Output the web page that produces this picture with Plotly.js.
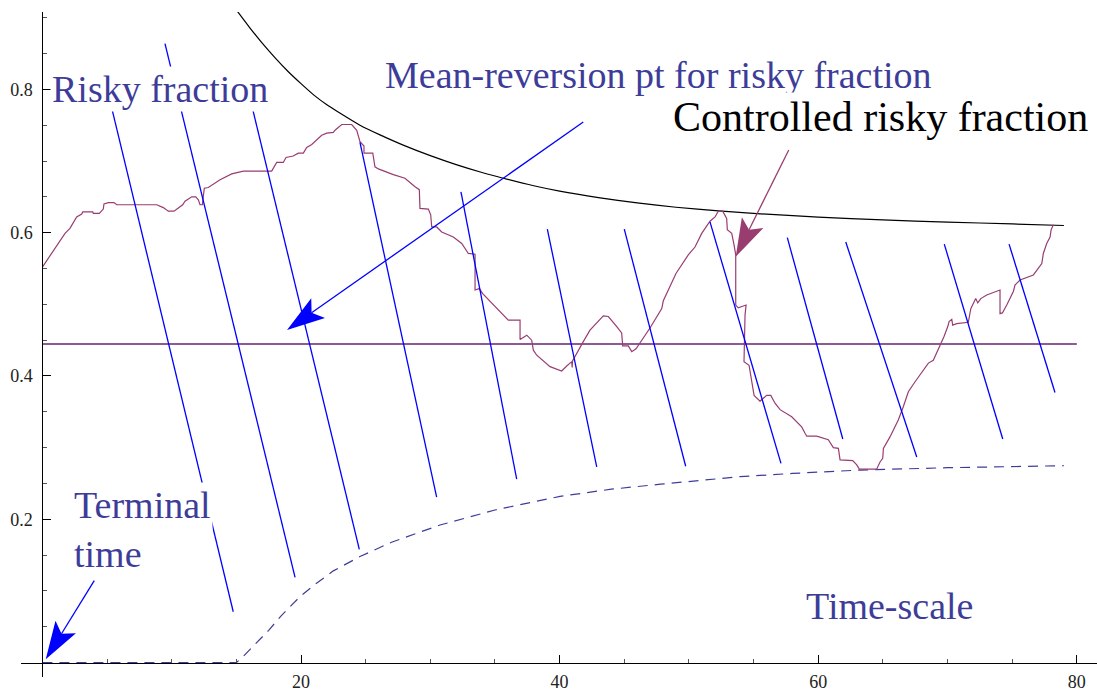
<!DOCTYPE html>
<html>
<head>
<meta charset="utf-8">
<script src="https://cdn.plot.ly/plotly-3.0.1.min.js"></script>
<style>
  html, body { margin: 0; padding: 0; background: #ffffff; }
  #chart { width: 1097px; height: 691px; }
</style>
</head>
<body>
<div id="chart"></div>
<script>
// Controlled risky fraction path (time, fraction)
const pathT = [0, 1.75, 2.13, 2.65, 3.04, 3.12, 3.89, 3.94, 4.40, 4.71,
  4.76, 5.10, 5.54, 5.75, 8.84, 9.35, 9.74, 10.18, 10.85, 11.03,
  11.55, 11.86, 12.06, 12.19, 12.37, 12.52, 12.83, 13.74, 14.64, 15.54,
  17.73, 18.12, 18.63, 18.84, 19.40, 19.79, 20.18, 20.44, 20.83, 21.60,
  21.99, 22.50, 22.63, 23.15, 23.92, 24.31, 24.56, 24.87, 24.87, 25.55,
  25.72, 25.98, 27.14, 28.04, 28.82, 29.15, 29.20, 29.85, 30.03, 30.11,
  30.50, 30.88, 31.78, 32.43, 32.94, 33.46, 33.46, 33.79, 34.05, 34.62,
  35.26, 36.03, 36.94, 36.94, 37.46, 37.84, 37.97, 38.23, 39.26, 40.16,
  40.55, 40.94, 40.97, 41.00, 41.83, 42.35, 43.38, 43.77, 44.42, 44.80,
  44.88, 45.31, 45.58, 45.91, 46.99, 47.90, 48.02, 49.00, 49.95, 50.47,
  50.99, 51.63, 52.02, 52.27, 52.61, 52.92, 52.97, 53.31, 53.49, 53.62,
  53.62, 53.82, 54.42, 54.34, 54.26, 54.65, 55.04, 55.50, 56.02, 56.33,
  56.66, 57.05, 57.95, 58.72, 58.98, 59.11, 59.88, 60.78, 61.17, 61.56,
  61.69, 62.67, 62.98, 63.18, 64.52, 64.78, 64.99, 65.04, 65.55, 66.20,
  66.58, 66.97, 67.49, 68.52, 68.90, 69.17, 69.55, 69.73, 70.02, 70.12,
  70.33, 70.40, 70.71, 71.61, 71.80, 72.18, 72.34, 72.57, 73.03, 74.06,
  74.06, 74.24, 74.58, 74.83, 75.09, 75.22, 75.61, 76.64, 77.02, 77.29,
  77.41, 77.67, 77.93, 78.01, 78.18];
const pathF = [0.552, 0.599, 0.606, 0.622, 0.626, 0.629, 0.629, 0.627, 0.627, 0.633,
  0.640, 0.642, 0.642, 0.639, 0.639, 0.635, 0.630, 0.630, 0.639, 0.644,
  0.650, 0.650, 0.646, 0.639, 0.639, 0.662, 0.663, 0.674, 0.682, 0.686,
  0.686, 0.698, 0.698, 0.705, 0.707, 0.711, 0.711, 0.719, 0.723, 0.736,
  0.739, 0.740, 0.743, 0.751, 0.751, 0.743, 0.727, 0.721, 0.711, 0.711,
  0.692, 0.689, 0.681, 0.676, 0.664, 0.660, 0.634, 0.633, 0.625, 0.608,
  0.608, 0.601, 0.594, 0.585, 0.571, 0.570, 0.520, 0.522, 0.515, 0.504,
  0.492, 0.478, 0.478, 0.451, 0.457, 0.450, 0.436, 0.429, 0.413, 0.407,
  0.414, 0.420, 0.412, 0.421, 0.448, 0.464, 0.484, 0.483, 0.469, 0.460,
  0.442, 0.442, 0.434, 0.438, 0.467, 0.494, 0.505, 0.543, 0.569, 0.580,
  0.599, 0.616, 0.622, 0.630, 0.630, 0.620, 0.604, 0.599, 0.583, 0.569,
  0.499, 0.495, 0.499, 0.485, 0.420, 0.415, 0.373, 0.365, 0.373, 0.373,
  0.362, 0.353, 0.343, 0.329, 0.320, 0.316, 0.316, 0.311, 0.300, 0.299,
  0.283, 0.282, 0.276, 0.270, 0.270, 0.280, 0.285, 0.299, 0.315, 0.339,
  0.357, 0.378, 0.392, 0.418, 0.422, 0.433, 0.446, 0.455, 0.469, 0.476,
  0.479, 0.471, 0.473, 0.475, 0.494, 0.508, 0.502, 0.508, 0.513, 0.520,
  0.487, 0.488, 0.499, 0.508, 0.518, 0.527, 0.534, 0.541, 0.550, 0.557,
  0.571, 0.585, 0.594, 0.604, 0.611];

// Upper boundary of the risky fraction
const upperT = [15.1, 16, 17, 18, 19, 20, 21, 22, 23, 24.56,
  26.11, 28, 30, 32, 34, 35.65, 38, 40, 43, 46,
  49, 52.3, 56, 60, 65, 70, 75, 79];
const upperF = [0.9085, 0.887, 0.8645, 0.844, 0.825, 0.808, 0.792, 0.7785, 0.767, 0.750,
  0.7365, 0.7215, 0.7075, 0.695, 0.684, 0.676, 0.6655, 0.658, 0.649, 0.6415,
  0.6355, 0.6305, 0.6258, 0.6218, 0.6178, 0.6148, 0.6122, 0.610];

// Lower boundary of the risky fraction
const lowerT = [0, 15.0, 15.5, 16.5, 17.5, 18.5, 19.92, 21, 22.5, 24.56,
  27, 30.75, 35, 40.03, 44, 47.8, 53.95, 58, 63.24, 70, 78.99];
const lowerF = [0, 0, 0.008, 0.026, 0.045, 0.066, 0.092, 0.108, 0.128, 0.148,
  0.168, 0.192, 0.213, 0.232, 0.242, 0.249, 0.2595, 0.264, 0.2687, 0.272, 0.2748];

// Mean-reversion level
const meanLevel = 0.4447;
const meanSpan = [0, 80];

// Time-scale segments: start (t, f) and end (t, f)
const scaleT0 = [5.28, 9.48, 16.16, 24.56, 32.37, 39.05, 45.00, 51.63, 57.61, 62.13, 69.75, 74.76];
const scaleF0 = [0.780, 0.864, 0.780, 0.726, 0.657, 0.605, 0.605, 0.615, 0.593, 0.587, 0.584, 0.584];
const scaleT1 = [14.76, 19.54, 24.51, 30.49, 36.68, 42.87, 49.75, 57.12, 61.90, 67.62, 74.27, 78.31];
const scaleF1 = [0.071, 0.119, 0.158, 0.231, 0.256, 0.273, 0.274, 0.278, 0.312, 0.287, 0.312, 0.377];

// Axis ticks
const xTicks = [20, 40, 60, 80];
const xTickText = ['20', '40', '60', '80'];
const xMinorTicks = [5, 10, 15, 25, 30, 35, 45, 50, 55, 65, 70, 75];
const yTicks = [0.2, 0.4, 0.6, 0.8];
const yTickText = ['0.2', '0.4', '0.6', '0.8'];
const yMinorTicks = [0.05, 0.1, 0.15, 0.25, 0.3, 0.35, 0.45, 0.5, 0.55, 0.65, 0.7, 0.75, 0.85, 0.9];

// ---- layout geometry ----
const FIG_W = 1097, FIG_H = 691;
const margin = { l: 21, r: 0, t: 12, b: 14, pad: 0 };
const xr = [-1.655, 81.56];
const yr = [-0.0201, 0.908];
const plotW = FIG_W - margin.l - margin.r;
const plotH = FIG_H - margin.t - margin.b;
const sx = plotW / (xr[1] - xr[0]);
const sy = plotH / (yr[1] - yr[0]);
const xAxisPos = (0 - yr[0]) / (yr[1] - yr[0]);
const yAxisPos = (0 - xr[0]) / (xr[1] - xr[0]);

const SERIF = "'Liberation Serif', 'Times New Roman', Times, serif";
const LABEL_BLUE = '#3d3d99';
const PATH_COLOR = '#993d71';

// Arrow: shaft as a line shape, notched head as a pixel-sized path anchored at the tip
function arrowShapes(tail, tip, color, width) {
  const dx = (tip[0] - tail[0]) * sx, dy = (tip[1] - tail[1]) * sy;
  const len = Math.hypot(dx, dy);
  const ux = dx / len, uy = dy / len;
  const nx = -uy, ny = ux;
  const L = 38, HW = 12, N = 30;
  const p = (a, b) => a.toFixed(2) + ',' + b.toFixed(2);
  const b1 = p(-L * ux + HW * nx, -L * uy + HW * ny);
  const nn = p(-N * ux, -N * uy);
  const b2 = p(-L * ux - HW * nx, -L * uy - HW * ny);
  return [
    { type: 'line', xref: 'x', yref: 'y', layer: 'above',
      x0: tail[0], y0: tail[1],
      x1: tip[0] - (N * ux) / sx, y1: tip[1] - (N * uy) / sy,
      line: { color: color, width: width } },
    { type: 'path', xref: 'x', yref: 'y', layer: 'above',
      xsizemode: 'pixel', ysizemode: 'pixel', xanchor: tip[0], yanchor: tip[1],
      path: 'M0,0L' + b1 + 'L' + nn + 'L' + b2 + 'Z',
      fillcolor: color, line: { width: 0 } }
  ];
}

// time-scale segments joined into one trace with gaps
const segX = [], segY = [];
for (let i = 0; i < scaleT0.length; i++) {
  segX.push(scaleT0[i], scaleT1[i], null);
  segY.push(scaleF0[i], scaleF1[i], null);
}

const traces = [
  { x: meanSpan, y: [meanLevel, meanLevel], mode: 'lines',
    line: { color: '#8d5a95', width: 2 }, hoverinfo: 'skip' },
  { x: lowerT, y: lowerF, mode: 'lines',
    line: { color: '#3d3d99', width: 1.2, dash: '10px,7px' }, hoverinfo: 'skip' },
  { x: upperT, y: upperF, mode: 'lines',
    line: { color: '#000000', width: 1.2, shape: 'spline', smoothing: 0.6 }, hoverinfo: 'skip' },
  { x: pathT, y: pathF, mode: 'lines',
    line: { color: PATH_COLOR, width: 1.2 }, hoverinfo: 'skip' },
  { x: segX, y: segY, mode: 'lines', connectgaps: false,
    line: { color: '#0000ff', width: 1.3 }, hoverinfo: 'skip' }
];

const shapes = [].concat(
  arrowShapes([41.83, 0.7545], [18.92, 0.4642], '#0000ff', 1.3),
  arrowShapes([4.01, 0.1143], [0.26, 0.0046], '#0000ff', 1.3),
  arrowShapes([57.72, 0.7154], [53.62, 0.5665], PATH_COLOR, 1.3)
);

function label(text, x, y, size, color) {
  return { text: text, x: x, y: y, xref: 'x', yref: 'y', showarrow: false,
    xanchor: 'left', yanchor: 'middle', align: 'left',
    bgcolor: '#ffffff', borderpad: 1,
    font: { family: SERIF, size: size, color: color } };
}

const annotations = [
  label('Risky fraction', 0.59, 0.800, 38, LABEL_BLUE),
  label('Mean-reversion pt for risky fraction', 26.34, 0.8198, 38, LABEL_BLUE),
  label('Controlled risky fraction', 48.6, 0.7615, 42, '#000000'),
  label('Terminal<br>time', 2.29, 0.1862, 38, LABEL_BLUE),
  label('Time-scale', 58.9, 0.0787, 38, LABEL_BLUE)
];

const tickFont = { family: SERIF, size: 18, color: '#222222' };

const layout = {
  width: FIG_W, height: FIG_H, margin: margin,
  paper_bgcolor: '#ffffff', plot_bgcolor: '#ffffff',
  showlegend: false,
  xaxis: {
    range: xr, anchor: 'free', position: xAxisPos, side: 'bottom',
    showline: true, linecolor: '#000000', linewidth: 1,
    showgrid: false, zeroline: false, fixedrange: true,
    ticks: 'inside', ticklen: 8, tickwidth: 1, tickcolor: '#000000',
    tickmode: 'array', tickvals: xTicks, ticktext: xTickText,
    tickfont: tickFont, ticklabelstandoff: 3,
    minor: { tickmode: 'array', tickvals: xMinorTicks, ticks: 'inside', ticklen: 4, tickwidth: 1, tickcolor: '#555555', showgrid: false }
  },
  yaxis: {
    range: yr, anchor: 'free', position: yAxisPos, side: 'left',
    showline: true, linecolor: '#000000', linewidth: 1,
    showgrid: false, zeroline: false, fixedrange: true,
    ticks: 'inside', ticklen: 8, tickwidth: 1, tickcolor: '#000000',
    tickmode: 'array', tickvals: yTicks, ticktext: yTickText,
    tickfont: tickFont, ticklabelstandoff: 6,
    minor: { tickmode: 'array', tickvals: yMinorTicks, ticks: 'inside', ticklen: 4, tickwidth: 1, tickcolor: '#555555', showgrid: false }
  },
  shapes: shapes,
  annotations: annotations
};

Plotly.newPlot('chart', traces, layout, { staticPlot: true, displayModeBar: false });
</script>
</body>
</html>
